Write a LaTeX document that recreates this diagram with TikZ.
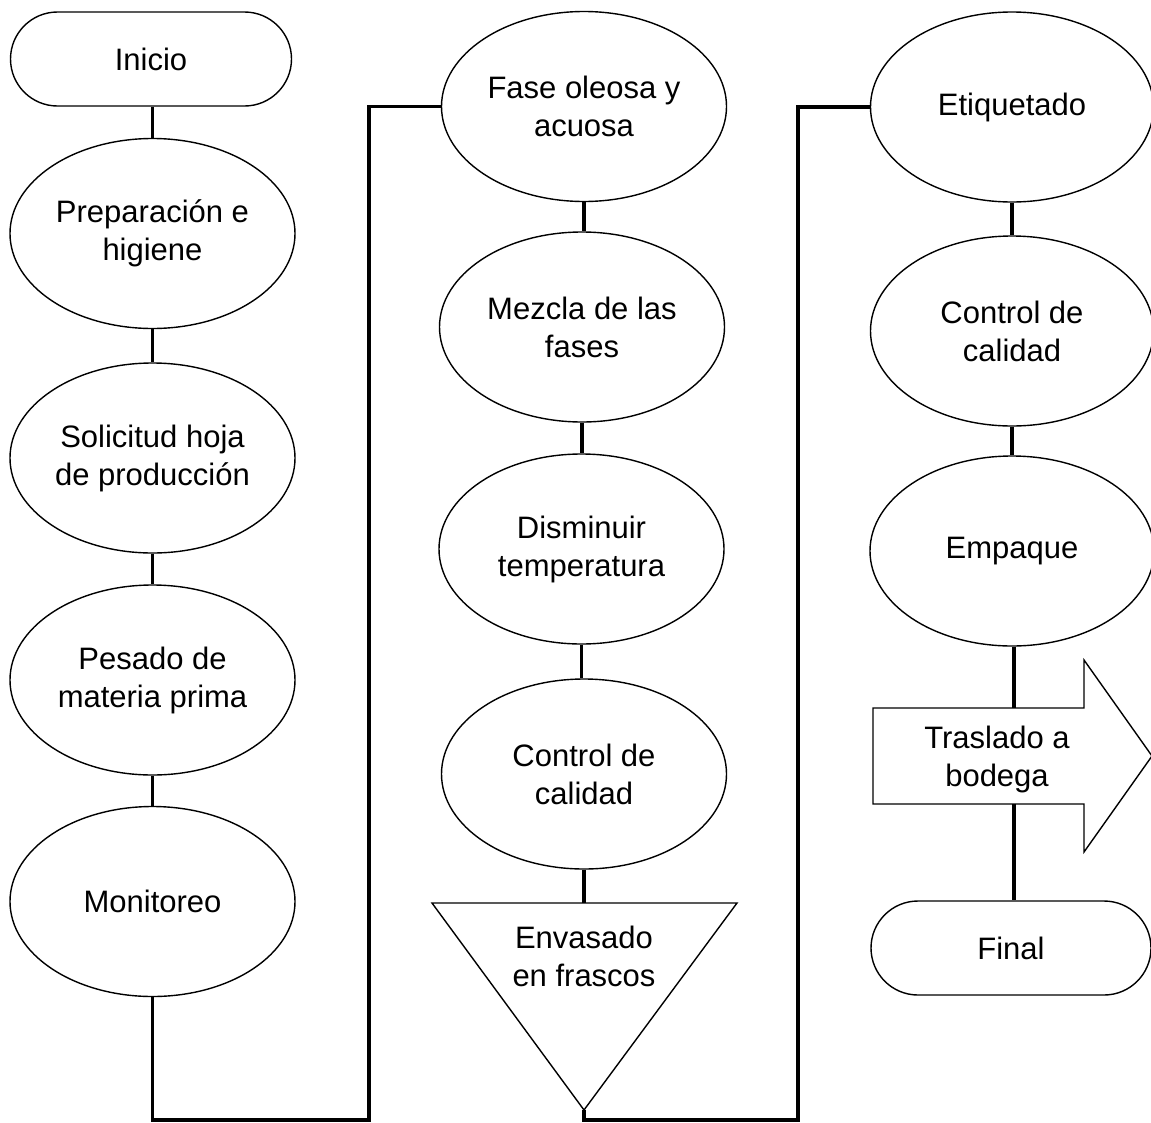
\documentclass[tikz,border=0pt]{standalone}
\usepackage{fontspec}
\setmainfont{Liberation Sans}
\usetikzlibrary{shapes.geometric,shapes.misc}
\begin{document}
\begin{tikzpicture}[x=1pt,y=-1pt,
  txt/.style={align=center,font=\fontsize{31}{38}\selectfont,inner sep=0pt},
  shp/.style={txt,draw,line width=1.4pt,fill=white},
  ell/.style={shp,ellipse,minimum width=285pt,minimum height=190pt},
  term/.style={shp,rounded rectangle,minimum width=281pt,minimum height=94pt},
  conn/.style={line width=3.5pt}]
\useasboundingbox (0,0) rectangle (1151,1122);

% column 1
\node[term] (inicio) at (151,59) {Inicio};
\node[ell] (prep) at (152.5,233.5) {Preparación e\\higiene};
\node[ell] (sol) at (152.5,458) {Solicitud hoja\\de producción};
\node[ell] (pes) at (152.5,680) {Pesado de\\materia prima};
\node[ell] (mon) at (152.5,901.5) {Monitoreo};

% column 2
\node[ell] (fase) at (584,106.5) {Fase oleosa y\\acuosa};
\node[ell] (mez) at (582,327) {Mezcla de las\\fases};
\node[ell] (dis) at (581.5,549) {Disminuir\\temperatura};
\node[ell] (cc1) at (584,774) {Control de\\calidad};
\draw[line width=1.4pt] (432,903) -- (737,903) -- (584,1110) -- cycle;
\node[txt] (env) at (584,956) {Envasado\\en frascos};
\coordinate (envtop) at (584,903);
\coordinate (envapex) at (584,1110);

% column 3
\node[ell,minimum width=283pt] (etq) at (1012,107) {Etiquetado};
\node[ell,minimum width=283pt] (cc2) at (1012,331) {Control de\\calidad};
\node[ell,minimum width=284pt] (emp) at (1012,551) {Empaque};
\draw[line width=1.4pt] (873,708) -- (1084,708) -- (1084,660) -- (1152,756)
  -- (1084,852) -- (1084,804) -- (873,804) -- cycle;
\node[txt] (tras) at (997,759) {Traslado a\\bodega};
\coordinate (arrtop) at (1014,708);
\coordinate (arrbot) at (1014,804);
\node[term,minimum width=280pt] (final) at (1011,948) {Final};

% routing points
\coordinate (b1) at (369,1120);
\coordinate (t1) at (369,106.5);
\coordinate (b2) at (798,1120);
\coordinate (t2) at (798,107);

% connectors
\draw[conn] (inicio.south -| prep.north) -- (prep.north);
\draw[conn] (prep) -- (sol);
\draw[conn] (sol) -- (pes);
\draw[conn] (pes) -- (mon);
\draw[conn] (mon.south) |- (b1) -- (t1) -- (fase.west);
\draw[conn] (fase.south) -- (fase.south |- mez.north);
\draw[conn] (mez.south) -- (mez.south |- dis.north);
\draw[conn] (dis.south) -- (dis.south |- cc1.north);
\draw[conn] (cc1.south) -- (envtop);
\draw[conn] (envapex) |- (b2) -- (t2) -- (t2 -| etq.west);
\draw[conn] (etq.south) -- (cc2.north);
\draw[conn] (cc2.south) -- (emp.north);
\draw[conn] (emp.south -| arrtop) -- (arrtop);
\draw[conn] (arrbot) -- (arrbot |- final.north);
\end{tikzpicture}
\end{document}
